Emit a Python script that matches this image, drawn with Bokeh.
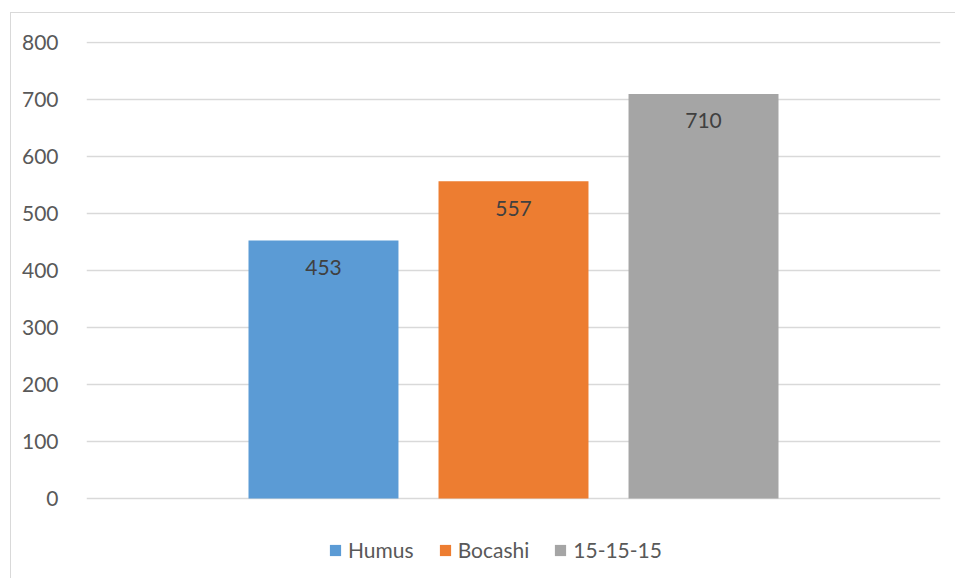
from bokeh.plotting import figure
from bokeh.models import ColumnDataSource, Range1d, Legend, LegendItem, FixedTicker
from bokeh.core.properties import value
from bokeh.embed import file_html
from bokeh.resources import INLINE

# ---- data ----
series = ["Humus", "Bocashi", "15-15-15"]
values = [453, 557, 710]
colors = ["#5B9BD5", "#ED7D31", "#A5A5A5"]
y_ticks = [0, 100, 200, 300, 400, 500, 600, 700, 800]

FONT = "Lato"
FS = "21px"
slot = 0.2225
bar_w = 0.1756
n = len(series)
xs = [(i - (n - 1) / 2) * slot for i in range(n)]
pad_top = 2       # so that the 800 gridline is drawn
pad_bottom = 142  # room under the 0 line, for the legend

src = ColumnDataSource(dict(
    x=xs, top=values, color=colors, name=series, txt=[str(v) for v in values]
))

p = figure(width=945, height=566,
           x_range=Range1d(-0.5, 0.5),
           y_range=Range1d(y_ticks[0] - pad_bottom, y_ticks[-1] + pad_top),
           output_backend="svg", toolbar_location=None,
           min_border_left=75, min_border_right=16, min_border_top=28, min_border_bottom=0)
p.margin = (12, 0, 0, 10)
p.styles = {"border-left": "1px solid #d9d9d9", "border-top": "1px solid #d9d9d9"}

p.outline_line_color = None
p.background_fill_color = "white"
p.border_fill_color = "white"

r = p.vbar(x="x", top="top", width=bar_w, fill_color="color", line_color=None, source=src)
p.text(x="x", y="top", text="txt", y_offset=27, text_align="center", text_baseline="middle",
       text_font=value(FONT), text_font_size=FS, text_color="#404040", source=src)

p.xaxis.visible = False
p.xgrid.grid_line_color = None
p.ygrid.grid_line_color = "#d9d9d9"
p.ygrid.grid_line_width = 1.5

ya = p.yaxis[0]
ya.ticker = FixedTicker(ticks=y_ticks)
ya.axis_line_color = None
ya.major_tick_line_color = None
ya.minor_tick_line_color = None
ya.major_label_standoff = 22
ya.major_label_text_font = FONT
ya.major_label_text_font_size = FS
ya.major_label_text_color = "#595959"

items = [LegendItem(label=s, renderers=[r], index=i) for i, s in enumerate(series)]
legend = Legend(items=items, orientation="horizontal", location=(242, 17),
                border_line_color=None, background_fill_alpha=0,
                label_text_font=FONT, label_text_font_size=FS, label_text_color="#595959",
                glyph_width=14, glyph_height=14, spacing=24, label_standoff=6,
                padding=0, margin=0)
p.add_layout(legend, "center")

open("out.html", "w").write(file_html(p, INLINE))
